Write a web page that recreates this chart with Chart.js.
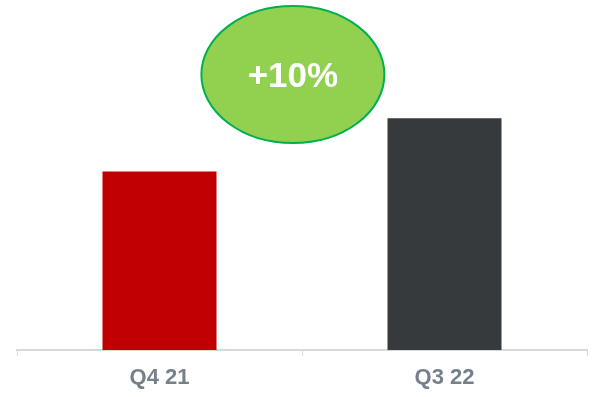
<!DOCTYPE html>
<html>
<head>
<meta charset="utf-8">
<script src="https://cdn.jsdelivr.net/npm/chart.js@4.4.0/dist/chart.umd.min.js"></script>
<style>
  html, body { margin:0; padding:0; background:#fff; }
  #wrap { width:601px; height:397px; position:relative; }
</style>
</head>
<body>
<div id="wrap"><canvas id="chart" width="601" height="397"></canvas></div>
<script>
const categories = ["Q4 21", "Q3 22"];
const values = [51, 66.2];
const barColors = ["#c00000", "#363a3d"];
const badgeText = "+10%";

// green oval with the change label, placed from the scales
const badgePlugin = {
  id: "badge",
  afterDatasetsDraw(chart){
    const { ctx, scales:{ x, y } } = chart;
    const cx = x.getPixelForValue(0.468);
    const cy = y.getPixelForValue(78.7);
    ctx.save();
    ctx.beginPath();
    ctx.ellipse(cx, cy, 91.5, 68.5, 0, 0, Math.PI * 2);
    ctx.fillStyle = "#92d050";
    ctx.fill();
    ctx.lineWidth = 2;
    ctx.strokeStyle = "#00b050";
    ctx.stroke();
    ctx.fillStyle = "#fff";
    ctx.font = "bold 35px 'Liberation Sans', Arial, sans-serif";
    ctx.textAlign = "center";
    ctx.textBaseline = "middle";
    ctx.fillText(badgeText, cx, cy + 3);
    ctx.restore();
  }
};

new Chart(document.getElementById("chart"), {
  type: "bar",
  data: {
    labels: categories,
    datasets: [{ data: values, backgroundColor: barColors, borderWidth: 0,
                 barPercentage: 0.4, categoryPercentage: 1 }]
  },
  options: {
    responsive: false,
    animation: false,
    layout: { padding: { left: 17, right: 14, top: 0, bottom: 0 } },
    plugins: { legend: { display: false }, tooltip: { enabled: false } },
    scales: {
      x: {
        offset: true,
        grid: { drawOnChartArea: false, drawTicks: true, tickLength: 6, color: "#d9d9d9", offset: true },
        border: { color: "#d9d9d9", width: 2 },
        ticks: { color: "#76808a", padding: 9,
                 font: { family: "'Liberation Sans', Arial, sans-serif", size: 22, weight: "bold" } },
        afterFit(scale){ scale.height = 47; }
      },
      y: { display: false, min: 0, max: 100 }
    }
  },
  plugins: [badgePlugin]
});
</script>
</body>
</html>
